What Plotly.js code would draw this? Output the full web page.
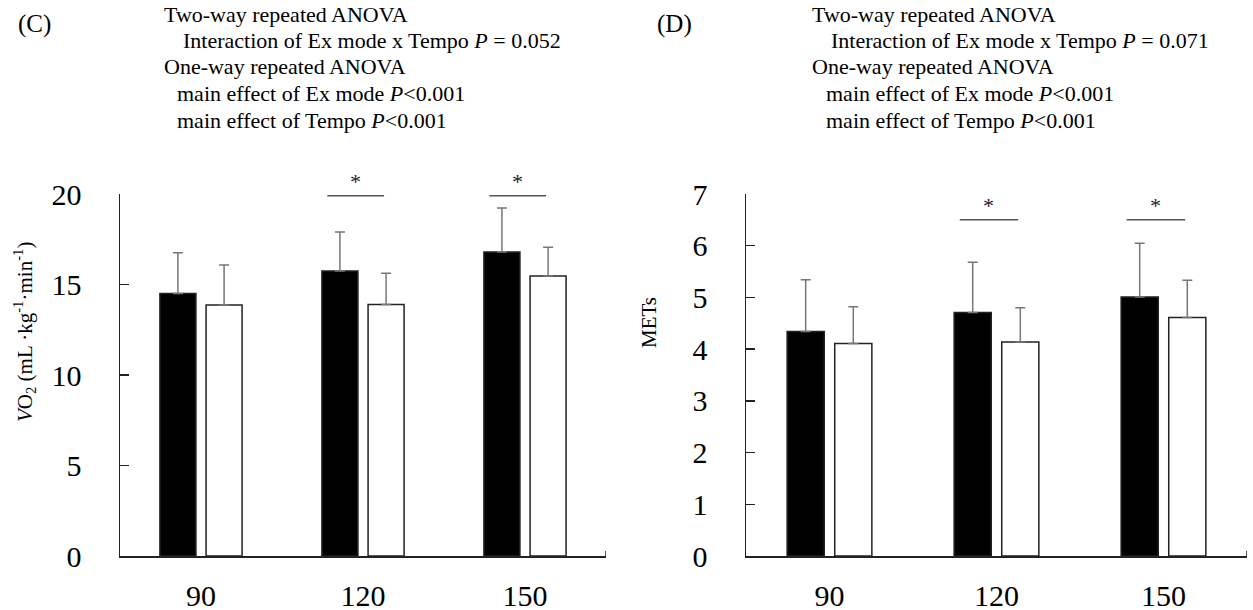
<!DOCTYPE html>
<html>
<head>
<meta charset="utf-8">
<script src="https://cdn.plot.ly/plotly-3.0.1.min.js"></script>
<style>html,body{margin:0;padding:0;background:#fff;}#chart{width:1253px;height:610px;}</style>
</head>
<body>
<div id="chart"></div>
<script>
// ---- data ----
const tempos = ['90', '120', '150'];
// Panel C: VO2 (mL/kg/min)
const vo2ModeA = [14.5, 15.75, 16.8];
const vo2ModeA_sd = [2.25, 2.15, 2.42];
const vo2ModeB = [13.87, 13.9, 15.47];
const vo2ModeB_sd = [2.21, 1.72, 1.59];
// Panel D: METs
const metsModeA = [4.34, 4.71, 5.01];
const metsModeA_sd = [1.0, 0.97, 1.04];
const metsModeB = [4.11, 4.14, 4.61];
const metsModeB_sd = [0.71, 0.66, 0.72];
// significance marks (category index) and bracket levels
const sigGroups = [1, 2];
const sigLevelC = 19.9;
const sigLevelD = 6.5;
const yTicksC = [0, 5, 10, 15, 20];
const yTicksD = [0, 1, 2, 3, 4, 5, 6, 7];
const textC = ['Two-way repeated ANOVA', 'Interaction of Ex mode x Tempo <i>P</i> = 0.052', 'One-way repeated ANOVA', 'main effect of Ex mode <i>P</i>&lt;0.001', 'main effect of Tempo <i>P</i>&lt;0.001'];
const textD = ['Two-way repeated ANOVA', 'Interaction of Ex mode x Tempo <i>P</i> = 0.071', 'One-way repeated ANOVA', 'main effect of Ex mode <i>P</i>&lt;0.001', 'main effect of Tempo <i>P</i>&lt;0.001'];

// ---- layout helpers ----
const W = 1253, H = 610;
const fx = x => x / W;
const fy = y => 1 - y / H;
const FONT = 'Liberation Serif, Times New Roman, serif';
const zeros = a => a.map(() => 0);

function barTrace(y, sd, fill, xa, ya, name) {
  return {
    type: 'bar', x: tempos, y: y, name: name, xaxis: xa, yaxis: ya,
    marker: {color: fill, line: {color: '#222', width: 1.5}},
    error_y: {type: 'data', symmetric: false, array: sd, arrayminus: zeros(sd),
              color: '#777', thickness: 1.5, width: 5},
    cliponaxis: false, hoverinfo: 'x+y'
  };
}

const data = [
  barTrace(vo2ModeA, vo2ModeA_sd, '#000', 'x', 'y', 'Mode A'),
  barTrace(vo2ModeB, vo2ModeB_sd, '#fff', 'x', 'y', 'Mode B'),
  barTrace(metsModeA, metsModeA_sd, '#000', 'x2', 'y2', 'Mode A'),
  barTrace(metsModeB, metsModeB_sd, '#fff', 'x2', 'y2', 'Mode B')
];

function xAxis(d0, d1, anchor) {
  return {domain: [fx(d0), fx(d1)], type: 'category', range: [-0.5, 2.5], anchor: anchor,
          showline: true, linecolor: '#222', linewidth: 1.5, ticks: '', showgrid: false,
          zeroline: false, tickfont: {family: FONT, size: 30, color: '#000'},
          ticklabelstandoff: 12, fixedrange: true};
}
function yAxis(range, ticks, anchor) {
  return {domain: [fy(556), fy(194)], range: range, anchor: anchor, tickmode: 'array', tickvals: ticks,
          showline: true, linecolor: '#222', linewidth: 1.5, ticks: 'inside', ticklen: 9,
          tickwidth: 1.5, tickcolor: '#222', showgrid: false, zeroline: false,
          tickfont: {family: FONT, size: 30, color: '#000'}, ticklabelstandoff: 31, fixedrange: true};
}

const shapes = [];
const annotations = [];

function addSig(xref, yref, level) {
  sigGroups.forEach(g => {
    shapes.push({type: 'line', xref: xref, yref: yref, x0: g - 0.22, x1: g + 0.13, y0: level, y1: level,
                 line: {color: '#555', width: 1.5}});
    annotations.push({xref: xref, yref: yref, x: g - 0.045, y: level, text: '*', showarrow: false,
                      yanchor: 'bottom', yshift: 0, font: {family: FONT, size: 22, color: '#222'}});
  });
}
addSig('x', 'y', sigLevelC);
addSig('x2', 'y2', sigLevelD);

// end ticks of category axes
[['x', 'y'], ['x2', 'y2']].forEach(([xr, yr]) => {
  shapes.push({type: 'line', xref: xr, yref: yr, x0: 2.5, x1: 2.5, ysizemode: 'pixel', yanchor: 0,
               y0: 0, y1: 5, line: {color: '#222', width: 1.5}});
});

function addText(lines, xs, label, labelX) {
  const ys = [14, 40.5, 67, 93.5, 120];
  lines.forEach((t, i) => {
    annotations.push({xref: 'paper', yref: 'paper', x: fx(xs[i]), y: fy(ys[i]), text: t, showarrow: false,
                      xanchor: 'left', yanchor: 'middle', font: {family: FONT, size: 22, color: '#000'}});
  });
  annotations.push({xref: 'paper', yref: 'paper', x: fx(labelX), y: fy(24), text: label, showarrow: false,
                    xanchor: 'left', yanchor: 'middle', font: {family: FONT, size: 25, color: '#000'}});
}
addText(textC, [162, 181, 162, 175, 175], '(C)', 16);
addText(textD, [810, 829, 810, 824, 824], '(D)', 655);

// y-axis titles
annotations.push({xref: 'paper', yref: 'paper', x: fx(24), y: fy(332), textangle: -90, showarrow: false,
                  text: '<i>V</i>O<sub>2</sub> (mL ·kg<sup>-1</sup>·min<sup>-1</sup>)',
                  xanchor: 'center', yanchor: 'middle', font: {family: FONT, size: 21, color: '#000'}});
annotations.push({xref: 'paper', yref: 'paper', x: fx(649), y: fy(323), textangle: -90, showarrow: false,
                  text: 'METs', xanchor: 'center', yanchor: 'middle',
                  font: {family: FONT, size: 21, color: '#000'}});

const layout = {
  width: W, height: H, margin: {l: 0, r: 0, t: 0, b: 0},
  paper_bgcolor: '#fff', plot_bgcolor: '#fff', showlegend: false,
  barmode: 'group', bargap: 0.43, bargroupgap: 0.22,
  font: {family: FONT, color: '#000'},
  xaxis: xAxis(120, 606, 'y'), yaxis: yAxis([0, 20], yTicksC, 'x'),
  xaxis2: xAxis(746, 1247, 'y2'), yaxis2: yAxis([0, 7], yTicksD, 'x2'),
  shapes: shapes, annotations: annotations
};

Plotly.newPlot('chart', data, layout, {displayModeBar: false, staticPlot: true});
</script>
</body>
</html>
